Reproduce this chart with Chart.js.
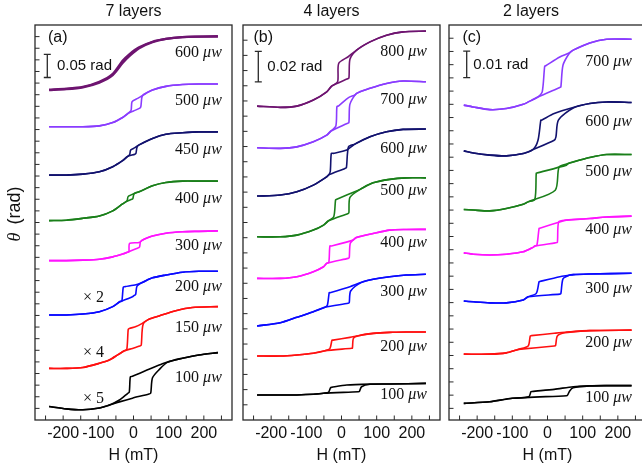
<!DOCTYPE html>
<html>
<head>
<meta charset="utf-8">
<title>Hysteresis loops vs laser power</title>
<script src="https://cdn.jsdelivr.net/npm/chart.js@4.4.1/dist/chart.umd.min.js"></script>
<style>
  html, body { margin: 0; padding: 0; background: #fff; width: 642px; height: 473px; overflow: hidden; position: relative; }
  canvas { position: absolute; top: 0; }
</style>
</head>
<body>
<canvas id="chartA" width="245" height="473" style="left:0px"></canvas>
<canvas id="chartB" width="214" height="473" style="left:236px"></canvas>
<canvas id="chartC" width="214" height="473" style="left:442px"></canvas>
<script>
// field axis (mT), shared by the three panels
var xTickValues = [-250, -200, -150, -100, -50, 0, 50, 100, 150, 200, 250];
var panelTitles = ['7 layers', '4 layers', '2 layers'];
var panelLetters = ['(a)', '(b)', '(c)'];
var scaleBars = [0.05, 0.02, 0.01];            // rad
var scaleBarText = ['0.05 rad', '0.02 rad', '0.01 rad'];

// laser powers (uW), top to bottom
var powersA = [600, 500, 450, 400, 300, 200, 150, 100];
var factorsA = ['', '', '', '', '', '× 2', '× 4', '× 5'];
var powersB = [800, 700, 600, 500, 400, 300, 200, 100];
var powersC = [700, 600, 500, 400, 300, 200, 100];

// loops: [H (mT), theta (rad)] for the up sweep and the down sweep
// --- 7 layers ---
var a600Up = [[-240,0.685],[-191,0.687],[-144,0.691],[-97,0.701],[-59,0.717],[-31,0.743],[-12,0.758],[16,0.775],[54,0.788],[92,0.795],[139,0.799],[186,0.800],[240,0.800]];
var a600Dn = [[-240,0.686],[-191,0.688],[-144,0.692],[-97,0.703],[-59,0.720],[-31,0.748],[-12,0.762],[16,0.777],[54,0.789],[92,0.795],[139,0.799],[186,0.800],[240,0.801]];
var a500Up = [[-240,0.606],[-191,0.606],[-144,0.606],[-97,0.608],[-59,0.615],[-31,0.626],[-17,0.634],[0,0.640],[18,0.646],[21,0.650],[24,0.670],[30,0.676],[54,0.685],[92,0.693],[139,0.697],[186,0.698],[240,0.698]];
var a500Dn = [[-240,0.606],[-191,0.606],[-144,0.606],[-97,0.608],[-59,0.615],[-31,0.626],[-17,0.634],[-7,0.641],[-4,0.660],[12,0.667],[27,0.674],[54,0.685],[92,0.693],[139,0.697],[186,0.698],[240,0.698]];
var a450Up = [[-240,0.502],[-191,0.502],[-144,0.504],[-97,0.509],[-59,0.520],[-31,0.533],[-17,0.542],[4,0.547],[7,0.549],[10,0.562],[16,0.567],[54,0.581],[92,0.590],[139,0.593],[186,0.595],[240,0.595]];
var a450Dn = [[-240,0.502],[-191,0.502],[-144,0.504],[-97,0.509],[-59,0.520],[-31,0.533],[-17,0.542],[-11,0.546],[-8,0.556],[4,0.561],[16,0.567],[54,0.581],[92,0.590],[139,0.593],[186,0.595],[240,0.595]];
var a400Up = [[-240,0.404],[-191,0.405],[-144,0.409],[-97,0.414],[-59,0.425],[-31,0.440],[-21,0.445],[-5,0.450],[-2,0.451],[1,0.461],[6,0.464],[16,0.466],[54,0.479],[92,0.486],[139,0.489],[186,0.489],[240,0.489]];
var a400Dn = [[-240,0.404],[-191,0.405],[-144,0.409],[-97,0.414],[-59,0.425],[-31,0.440],[-21,0.445],[-18,0.447],[-15,0.456],[4,0.463],[16,0.466],[54,0.479],[92,0.486],[139,0.489],[186,0.489],[240,0.489]];
var a300Up = [[-240,0.318],[-191,0.318],[-144,0.319],[-97,0.321],[-59,0.326],[-31,0.332],[-17,0.336],[9,0.344],[17,0.347],[20,0.359],[30,0.364],[54,0.371],[92,0.377],[139,0.380],[186,0.381],[240,0.382]];
var a300Dn = [[-240,0.318],[-191,0.318],[-144,0.319],[-97,0.321],[-59,0.326],[-31,0.332],[-17,0.336],[-13,0.337],[-11,0.355],[16,0.357],[25,0.362],[30,0.364],[54,0.371],[92,0.377],[139,0.380],[186,0.381],[240,0.382]];
var a200Up = [[-240,0.201],[-191,0.201],[-144,0.203],[-97,0.208],[-59,0.219],[-38,0.230],[-33,0.231],[-3,0.240],[2,0.243],[6,0.245],[10,0.263],[25,0.271],[54,0.281],[92,0.287],[139,0.293],[186,0.295],[240,0.295]];
var a200Dn = [[-240,0.201],[-191,0.201],[-144,0.203],[-97,0.208],[-59,0.219],[-38,0.230],[-33,0.231],[-29,0.261],[-24,0.262],[7,0.266],[25,0.271],[54,0.281],[92,0.287],[139,0.293],[186,0.295],[240,0.295]];
var a150Up = [[-240,0.086],[-191,0.086],[-144,0.088],[-97,0.097],[-69,0.104],[-45,0.115],[-26,0.124],[-3,0.129],[18,0.134],[22,0.136],[27,0.180],[44,0.192],[73,0.199],[120,0.210],[167,0.217],[240,0.219]];
var a150Dn = [[-240,0.086],[-191,0.086],[-144,0.088],[-97,0.097],[-69,0.104],[-45,0.115],[-26,0.124],[-19,0.127],[-15,0.170],[-12,0.172],[7,0.176],[25,0.183],[44,0.192],[73,0.199],[120,0.210],[167,0.217],[240,0.219]];
var a100Up = [[-240,0.004],[-191,-0.001],[-144,-0.003],[-97,0.001],[-69,0.007],[-40,0.014],[-3,0.022],[44,0.031],[49,0.033],[54,0.066],[75,0.085],[96,0.099],[139,0.108],[186,0.115],[240,0.120]];
var a100Dn = [[-240,0.004],[-191,-0.001],[-144,-0.003],[-97,0.001],[-69,0.007],[-40,0.018],[-17,0.032],[-12,0.035],[-9,0.068],[-3,0.069],[44,0.084],[82,0.096],[101,0.101],[139,0.108],[186,0.115],[240,0.120]];

// --- 4 layers ---
var b800Up = [[-240,0.2066],[-174,0.2058],[-127,0.2066],[-80,0.2106],[-42,0.2160],[-28,0.2198],[15,0.2244],[21,0.2250],[24,0.2375],[43,0.2435],[81,0.2489],[128,0.2533],[175,0.2555],[240,0.2560]];
var b800Dn = [[-240,0.2066],[-174,0.2058],[-127,0.2066],[-80,0.2106],[-42,0.2160],[-28,0.2198],[-11,0.2226],[-8,0.2347],[19,0.2391],[43,0.2435],[81,0.2489],[128,0.2533],[175,0.2555],[240,0.2560]];
var b700Up = [[-240,0.1792],[-174,0.1788],[-127,0.1798],[-80,0.1831],[-42,0.1875],[-30,0.1902],[16,0.1952],[21,0.1958],[24,0.2079],[43,0.2150],[81,0.2183],[128,0.2215],[175,0.2231],[240,0.2226]];
var b700Dn = [[-240,0.1792],[-174,0.1788],[-127,0.1798],[-80,0.1831],[-42,0.1875],[-30,0.1902],[-16,0.1935],[-13,0.2062],[-8,0.2068],[20,0.2122],[38,0.2139],[43,0.2150],[81,0.2183],[128,0.2215],[175,0.2231],[240,0.2226]];
var b600Up = [[-240,0.1474],[-174,0.1481],[-127,0.1502],[-80,0.1546],[-42,0.1601],[-37,0.1612],[10,0.1656],[14,0.1662],[20,0.1798],[38,0.1816],[81,0.1864],[128,0.1897],[175,0.1913],[240,0.1915]];
var b600Dn = [[-240,0.1474],[-174,0.1481],[-127,0.1502],[-80,0.1546],[-42,0.1601],[-37,0.1612],[-32,0.1634],[-29,0.1755],[-23,0.1755],[15,0.1777],[38,0.1816],[81,0.1864],[128,0.1897],[175,0.1913],[240,0.1915]];
var b500Up = [[-240,0.1206],[-174,0.1206],[-127,0.1217],[-80,0.1250],[-51,0.1283],[-37,0.1311],[19,0.1360],[21,0.1364],[24,0.1465],[53,0.1518],[90,0.1561],[137,0.1584],[184,0.1594],[240,0.1594]];
var b500Dn = [[-240,0.1206],[-174,0.1206],[-127,0.1217],[-80,0.1250],[-51,0.1283],[-37,0.1311],[-22,0.1338],[-17,0.1448],[-15,0.1452],[48,0.1513],[53,0.1518],[90,0.1561],[137,0.1584],[184,0.1594],[240,0.1594]];
var b400Up = [[-240,0.0932],[-174,0.0932],[-127,0.0943],[-80,0.0976],[-51,0.1009],[-42,0.1031],[19,0.1064],[22,0.1068],[25,0.1163],[38,0.1196],[43,0.1202],[90,0.1228],[137,0.1250],[184,0.1254],[240,0.1255]];
var b400Dn = [[-240,0.0932],[-174,0.0932],[-127,0.0943],[-80,0.0976],[-51,0.1009],[-42,0.1031],[-36,0.1038],[-33,0.1145],[-28,0.1145],[33,0.1184],[43,0.1202],[90,0.1228],[137,0.1250],[184,0.1254],[240,0.1255]];
var b300Up = [[-240,0.0619],[-174,0.0640],[-127,0.0676],[-80,0.0713],[-47,0.0742],[19,0.0768],[22,0.0772],[26,0.0849],[57,0.0906],[90,0.0926],[137,0.0943],[184,0.0954],[240,0.0959]];
var b300Dn = [[-240,0.0619],[-174,0.0640],[-127,0.0676],[-80,0.0713],[-47,0.0742],[-40,0.0757],[-35,0.0838],[-33,0.0838],[24,0.0877],[57,0.0906],[90,0.0926],[137,0.0943],[184,0.0954],[240,0.0959]];
var b200Up = [[-240,0.0421],[-174,0.0421],[-127,0.0428],[-80,0.0439],[-47,0.0456],[29,0.0472],[31,0.0474],[34,0.0538],[48,0.0555],[90,0.0570],[137,0.0577],[184,0.0579],[240,0.0579]];
var b200Dn = [[-240,0.0421],[-174,0.0421],[-127,0.0428],[-80,0.0439],[-47,0.0456],[-33,0.0470],[-27,0.0526],[-24,0.0526],[24,0.0544],[43,0.0553],[48,0.0555],[90,0.0570],[137,0.0577],[184,0.0579],[240,0.0579]];
var b100Up = [[-240,0.0165],[-174,0.0165],[-127,0.0165],[-80,0.0169],[-51,0.0176],[48,0.0186],[51,0.0188],[57,0.0219],[81,0.0235],[137,0.0237],[240,0.0241]];
var b100Dn = [[-240,0.0165],[-174,0.0165],[-127,0.0165],[-80,0.0169],[-51,0.0176],[-37,0.0182],[-31,0.0213],[-28,0.0215],[15,0.0230],[81,0.0236],[137,0.0237],[240,0.0241]];

// --- 2 layers ---
var c700Up = [[-238,0.1147],[-211,0.1140],[-164,0.1130],[-117,0.1134],[-69,0.1150],[-41,0.1168],[-27,0.1178],[35,0.1214],[38,0.1216],[44,0.1298],[63,0.1345],[73,0.1355],[120,0.1382],[168,0.1396],[239,0.1396]];
var c700Dn = [[-238,0.1147],[-211,0.1140],[-164,0.1130],[-117,0.1134],[-69,0.1150],[-41,0.1168],[-27,0.1178],[-15,0.1197],[-8,0.1294],[-5,0.1296],[35,0.1329],[63,0.1345],[73,0.1355],[120,0.1382],[168,0.1396],[239,0.1396]];
var c600Up = [[-238,0.0974],[-211,0.0966],[-164,0.0958],[-117,0.0955],[-69,0.0964],[-41,0.0979],[19,0.1014],[24,0.1027],[31,0.1090],[73,0.1136],[120,0.1153],[168,0.1159],[239,0.1157]];
var c600Dn = [[-238,0.0974],[-211,0.0966],[-164,0.0958],[-117,0.0955],[-69,0.0964],[-41,0.0979],[-27,0.1014],[-19,0.1090],[-17,0.1090],[19,0.1115],[73,0.1138],[120,0.1153],[168,0.1159],[239,0.1157]];
var c500Up = [[-238,0.0752],[-211,0.0750],[-164,0.0747],[-117,0.0756],[-69,0.0772],[-55,0.0781],[22,0.0825],[33,0.0913],[59,0.0926],[92,0.0939],[120,0.0949],[168,0.0960],[239,0.0960]];
var c500Dn = [[-238,0.0752],[-211,0.0750],[-164,0.0747],[-117,0.0756],[-69,0.0772],[-55,0.0781],[-36,0.0790],[-32,0.0889],[-30,0.0890],[54,0.0920],[59,0.0926],[92,0.0939],[120,0.0949],[168,0.0960],[239,0.0960]];
var c400Up = [[-238,0.0588],[-211,0.0583],[-164,0.0580],[-117,0.0583],[-69,0.0592],[-41,0.0609],[-36,0.0614],[22,0.0626],[28,0.0628],[32,0.0706],[54,0.0712],[120,0.0718],[168,0.0724],[239,0.0727]];
var c400Dn = [[-238,0.0588],[-211,0.0583],[-164,0.0580],[-117,0.0583],[-69,0.0592],[-41,0.0609],[-36,0.0614],[-30,0.0618],[-24,0.0681],[-22,0.0681],[44,0.0709],[54,0.0712],[120,0.0718],[168,0.0724],[239,0.0727]];
var c300Up = [[-238,0.0406],[-211,0.0403],[-164,0.0399],[-117,0.0399],[-69,0.0410],[-55,0.0422],[35,0.0432],[38,0.0434],[44,0.0490],[60,0.0503],[73,0.0506],[120,0.0508],[239,0.0511]];
var c300Dn = [[-238,0.0406],[-211,0.0403],[-164,0.0399],[-117,0.0399],[-69,0.0410],[-55,0.0422],[-32,0.0435],[-24,0.0479],[-22,0.0480],[35,0.0498],[60,0.0503],[73,0.0506],[120,0.0508],[239,0.0511]];
var c200Up = [[-238,0.0205],[-164,0.0205],[-117,0.0210],[-88,0.0221],[-83,0.0223],[19,0.0236],[23,0.0238],[28,0.0274],[50,0.0286],[120,0.0294],[239,0.0296]];
var c200Dn = [[-238,0.0205],[-164,0.0205],[-117,0.0210],[-88,0.0221],[-83,0.0223],[-55,0.0236],[-49,0.0274],[-46,0.0275],[19,0.0284],[50,0.0288],[120,0.0294],[239,0.0296]];
var c100Up = [[-238,0.0019],[-164,0.0025],[-100,0.0038],[54,0.0048],[57,0.0050],[63,0.0066],[73,0.0078],[120,0.0085],[168,0.0086],[239,0.0086]];
var c100Dn = [[-238,0.0019],[-164,0.0025],[-100,0.0038],[-53,0.0044],[-47,0.0063],[-44,0.0064],[19,0.0072],[73,0.0082],[120,0.0085],[168,0.0086],[239,0.0086]];

var PURPLE = '#6e1470', VIOLET = '#8a3cff', NAVY = '#12126e', GREEN = '#1a7f1a',
    MAGENTA = '#ff14ff', BLUE = '#0a0aff', RED = '#ff1010', BLACK = '#000000';

Chart.defaults.font.family = '"Liberation Sans", Arial, sans-serif';
Chart.defaults.color = '#111';

var panels = [
  { canvas: 'chartA', title: panelTitles[0], letter: panelLetters[0], bar: scaleBars[0], barText: scaleBarText[0],
    powers: powersA, factors: factorsA,
    loops: [[a600Up, a600Dn], [a500Up, a500Dn], [a450Up, a450Dn], [a400Up, a400Dn],
            [a300Up, a300Dn], [a200Up, a200Dn], [a150Up, a150Dn], [a100Up, a100Dn]],
    colors: [PURPLE, VIOLET, NAVY, GREEN, MAGENTA, BLUE, RED, BLACK],
    padLeft: 35, padRight: 13, yMin: -0.025, yMax: 0.825, yFirst: 0, yStep: 0.025,
    barCenter: 0.737, barDx: 12.3, barTextDx: 22, letterDx: 13, titleShift: 0, labelH: 251,
    labelDy: [16, 17, 18, 18, 15, 16, 21, 25], factorDy: [0, 0, 0, 0, 0, -17, -16, -8], yTitle: true },
  { canvas: 'chartB', title: panelTitles[1], letter: panelLetters[1], bar: scaleBars[1], barText: scaleBarText[1],
    powers: powersB, factors: [],
    loops: [[b800Up, b800Dn], [b700Up, b700Dn], [b600Up, b600Dn], [b500Up, b500Dn],
            [b400Up, b400Dn], [b300Up, b300Dn], [b200Up, b200Dn], [b100Up, b100Dn]],
    colors: [PURPLE, VIOLET, NAVY, GREEN, MAGENTA, BLUE, RED, BLACK],
    padLeft: 7, padRight: 10, yMin: 0, yMax: 0.26, yFirst: 0.01, yStep: 0.01,
    barCenter: 0.2326, barDx: 15.3, barTextDx: 24.3, letterDx: 10.5, titleShift: -10, labelH: 243,
    labelDy: [20.7, 17.6, 19.3, 13, 13.4, 17.4, 14.7, 11.7], factorDy: [] },
  { canvas: 'chartC', title: panelTitles[2], letter: panelLetters[2], bar: scaleBars[2], barText: scaleBarText[2],
    powers: powersC, factors: [],
    loops: [[c700Up, c700Dn], [c600Up, c600Dn], [c500Up, c500Dn], [c400Up, c400Dn],
            [c300Up, c300Dn], [c200Up, c200Dn], [c100Up, c100Dn]],
    colors: [VIOLET, NAVY, GREEN, MAGENTA, BLUE, RED, BLACK],
    padLeft: 7, padRight: 10, yMin: -0.0044, yMax: 0.145, yFirst: 0, yStep: 0.005,
    barCenter: 0.1301, barDx: 17.7, barTextDx: 24.3, letterDx: 13.5, titleShift: -16.5, labelH: 240,
    labelDy: [22.7, 19.3, 17.4, 14, 16, 12.7, 12.6], factorDy: [] }
];

function makeDeco(p) {
  return {
    id: 'deco',
    afterDraw: function(chart) {
      var ctx = chart.ctx, a = chart.chartArea, x = chart.scales.x, y = chart.scales.y;
      ctx.save();
      // frame
      ctx.strokeStyle = '#2a2a2a';
      ctx.lineWidth = 1.3;
      ctx.strokeRect(a.left, a.top, a.right - a.left, a.bottom - a.top);
      // inward ticks, bottom and left
      ctx.lineWidth = 1;
      ctx.beginPath();
      xTickValues.forEach(function(v) {
        var px = x.getPixelForValue(v);
        ctx.moveTo(px, a.bottom);
        ctx.lineTo(px, a.bottom - 4.5);
      });
      for (var k = 0; k < 200; k++) {
        var v = p.yFirst + k * p.yStep;
        if (v > p.yMax - 1e-9) break;
        var py = y.getPixelForValue(v);
        ctx.moveTo(a.left, py);
        ctx.lineTo(a.left + 4.5, py);
      }
      ctx.stroke();

      ctx.fillStyle = '#111';
      ctx.textBaseline = 'middle';
      ctx.font = '16px "Liberation Sans"';
      ctx.textAlign = 'center';
      ctx.fillText(p.title, (a.left + a.right) / 2 + p.titleShift, 12);
      ctx.textAlign = 'left';
      ctx.fillText(p.letter, a.left + p.letterDx, a.top + 13);

      // scale bar
      var bx = a.left + p.barDx;
      var yTop = y.getPixelForValue(p.barCenter + p.bar / 2);
      var yBot = y.getPixelForValue(p.barCenter - p.bar / 2);
      ctx.beginPath();
      ctx.moveTo(bx, yTop); ctx.lineTo(bx, yBot);
      ctx.moveTo(bx - 3.5, yTop); ctx.lineTo(bx + 3.5, yTop);
      ctx.moveTo(bx - 3.5, yBot); ctx.lineTo(bx + 3.5, yBot);
      ctx.lineWidth = 1.3;
      ctx.stroke();
      ctx.font = '15px "Liberation Sans"';
      ctx.fillText(p.barText, a.left + p.barTextDx, (yTop + yBot) / 2);

      // power labels under the right end of each loop
      var rx = x.getPixelForValue(p.labelH);
      p.powers.forEach(function(pw, i) {
        var up = p.loops[i][0];
        var ly = y.getPixelForValue(up[up.length - 1][1]) + p.labelDy[i];
        ctx.textAlign = 'right';
        ctx.font = 'italic 16px "Liberation Serif"';
        var w = ctx.measureText('μw').width;
        ctx.fillText('μw', rx, ly);
        ctx.font = '16px "Liberation Serif"';
        ctx.fillText(pw + ' ', rx - w, ly);
      });

      // magnification factors
      ctx.textAlign = 'center';
      ctx.font = '16px "Liberation Serif"';
      p.factors.forEach(function(f, i) {
        if (!f) return;
        var up = p.loops[i][0];
        ctx.fillText(f, x.getPixelForValue(-114), y.getPixelForValue(up[0][1]) + p.factorDy[i]);
      });

      // y axis title
      if (p.yTitle) {
        ctx.translate(15, 214);
        ctx.rotate(-Math.PI / 2);
        ctx.font = 'italic 18px "Liberation Serif"';
        var wt = ctx.measureText('θ').width;
        ctx.font = '18px "Liberation Sans"';
        var wr = ctx.measureText('(rad)').width;
        var gap = 8;
        var start = -(wt + gap + wr) / 2;
        ctx.textAlign = 'left';
        ctx.font = 'italic 18px "Liberation Serif"';
        ctx.fillText('θ', start, 0);
        ctx.font = '18px "Liberation Sans"';
        ctx.fillText('(rad)', start + wt + gap, 0);
      }
      ctx.restore();
    }
  };
}

function makeChart(p) {
  var datasets = [];
  p.loops.forEach(function(loop, i) {
    loop.forEach(function(branch) {
      datasets.push({
        data: branch,
        borderColor: p.colors[i],
        borderWidth: (p.powers[i] === 600 && p.canvas === 'chartA') ? 2.3 : 1.6,
        borderJoinStyle: 'round',
        pointRadius: 0,
        fill: false,
        tension: 0.25
      });
    });
  });
  return new Chart(document.getElementById(p.canvas), {
    type: 'line',
    data: { datasets: datasets },
    options: {
      responsive: false,
      animation: false,
      events: [],
      layout: { padding: { left: p.padLeft, right: p.padRight, top: 25, bottom: 8.4 } },
      plugins: { legend: { display: false }, tooltip: { enabled: false } },
      scales: {
        x: {
          type: 'linear', min: -280, max: 280,
          afterBuildTicks: function(s) { s.ticks = xTickValues.map(function(v) { return { value: v }; }); },
          grid: { display: false, drawTicks: false, tickLength: 0 },
          border: { display: false },
          ticks: {
            autoSkip: false, maxRotation: 0, minRotation: 0, padding: 5.5, color: '#111',
            font: { size: 16, lineHeight: 1 },
            callback: function(v) { return v % 100 === 0 ? String(v) : ''; }
          },
          title: { display: true, text: 'H (mT)', color: '#111', font: { size: 16, lineHeight: 1.1 }, padding: { top: 0, bottom: 0 } }
        },
        y: { type: 'linear', display: false, min: p.yMin, max: p.yMax }
      }
    },
    plugins: [makeDeco(p)]
  });
}

panels.forEach(makeChart);
</script>
</body>
</html>
